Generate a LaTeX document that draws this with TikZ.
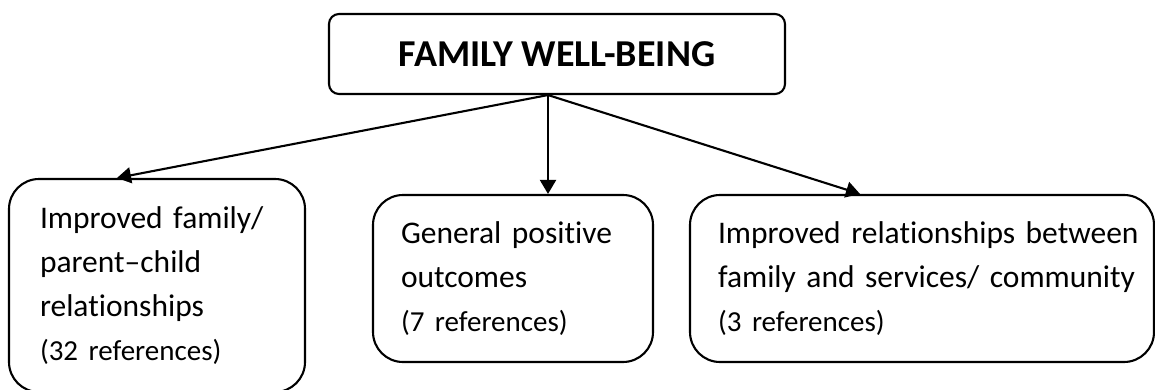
\documentclass[tikz,border=0pt]{standalone}
\usepackage{fontspec}
\setmainfont{Carlito}[Ligatures=NoCommon]
\usetikzlibrary{arrows.meta,positioning}
\newcommand{\refs}[1]{{\fontsize{29}{44}\selectfont #1}}
\tikzset{
  box/.style={draw=black,line width=2.1pt,fill=white,align=left,inner ysep=0pt,
              font=\fontsize{31.5}{44}\selectfont},
  head/.style={box,rounded corners=10pt,align=center,inner xsep=0pt,
               font=\fontsize{38}{40}\selectfont\bfseries,
               minimum width=456pt,minimum height=80pt},
  leaf/.style={box,rounded corners=30pt},
  arr/.style={-{Triangle[length=14pt,width=16pt]},line width=2.1pt},
}

\begin{document}
\begin{tikzpicture}[x=1pt,y=1pt]
    \useasboundingbox (0,0) rectangle (1155,389);
    \node[head] at (557,335) (wellbeing) {FAMILY WELL-BEING};
    \node[leaf,inner xsep=31pt,text width=234pt,minimum height=213pt] at (157,103.5) (family)
        {Improved family/\\ parent--child\\ relationships\\ \refs{(32 references)}};
    \node[leaf,inner xsep=28pt,text width=224pt,minimum height=167pt] at (513,110.5) (general)
        {General positive\\ outcomes\\ \refs{(7 references)}};
    \node[leaf,inner xsep=28pt,text width=408pt,minimum height=167pt] at (922,110.5) (services)
        {\mbox{Improved relationships between}\\ \mbox{family and services/ community}\\ \refs{(3 references)}};

    \coordinate (fork) at ([xshift=-9pt]wellbeing.south);
    \draw[arr] (fork) -- ([xshift=-40pt]family.north);
    \draw[arr] (fork) -- ([xshift=35pt]general.north);
    \draw[arr] (fork) -- ([xshift=-62pt]services.north);
  \end{tikzpicture}
\end{document}
